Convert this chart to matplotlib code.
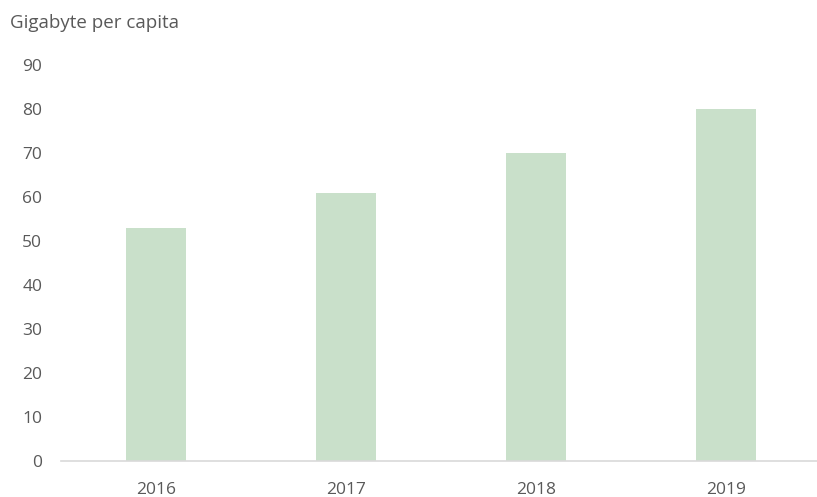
import matplotlib
matplotlib.use("Agg")
import matplotlib.pyplot as plt

years = ["2016", "2017", "2018", "2019"]
values = [53, 61, 70, 80]
y_ticks = [0, 10, 20, 30, 40, 50, 60, 70, 80, 90]
title = "Gigabyte per capita"

plt.rcParams['font.family'] = ['Open Sans', 'DejaVu Sans']
text_color = "#595959"

fig = plt.figure(figsize=(8.17, 4.97), dpi=100)
ax = fig.add_axes([61/817, 36/497, 756/817, 396/497])

x = list(range(len(years)))
ax.bar(x, values, width=0.315, color="#C9E0CA", zorder=2)

ax.set_xlim(-0.5, 3.48)
ax.set_ylim(0, 90)
ax.set_yticks(y_ticks)
ax.set_yticklabels([str(t) for t in y_ticks])
ax.set_xticks(x)
ax.set_xticklabels(years)

for s in ["top", "right", "left"]:
    ax.spines[s].set_visible(False)
ax.spines["bottom"].set_color("#D9D9D9")
ax.spines["bottom"].set_linewidth(1.2)

ax.tick_params(axis="y", length=0, pad=13.5, labelsize=12.5, labelcolor=text_color)
ax.tick_params(axis="x", length=0, pad=15, labelsize=12.5, labelcolor=text_color)

fig.text(10/817, 1 - 23/497, title, ha="left", va="center", fontsize=13.5, color=text_color)

fig.savefig("out.png", dpi=100)
